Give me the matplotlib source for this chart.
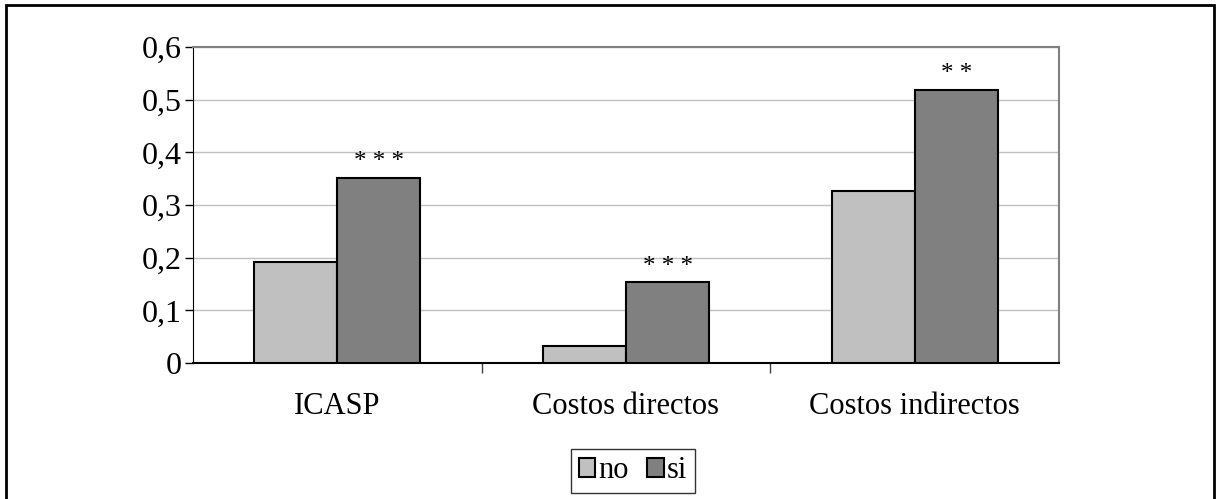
import numpy as np
import matplotlib.pyplot as plt
from matplotlib.patches import Rectangle

categories = ["ICASP", "Costos directos", "Costos indirectos"]
no_values = [0.192, 0.032, 0.326]
si_values = [0.352, 0.154, 0.519]
stars = ["* * *", "* * *", "* *"]
yticks = [0, 0.1, 0.2, 0.3, 0.4, 0.5, 0.6]
ytick_labels = ["0", "0,1", "0,2", "0,3", "0,4", "0,5", "0,6"]

plt.rcParams['font.family'] = ['Liberation Serif', 'DejaVu Serif']

fig = plt.figure(figsize=(12.16, 4.99), dpi=100)
W, H = 1216, 499
# axes box in pixels: left 193, right 1059, top 47, bottom 363
ax = fig.add_axes([193 / W, 1 - 363 / H, (1059 - 193) / W, (363 - 47) / H])

x = np.arange(len(categories))
width = 0.288
ax.bar(x - width / 2, no_values, width, color='#c0c0c0', edgecolor='black', linewidth=1.5, label='no', zorder=3)
ax.bar(x + width / 2, si_values, width, color='#808080', edgecolor='black', linewidth=1.5, label='si', zorder=3)

for xi, v, s in zip(x, si_values, stars):
    ax.text(xi + width / 2, v + 0.008, s, ha='center', va='bottom', fontsize=18, zorder=4)

ax.set_xlim(-0.5, len(categories) - 0.5)
ax.set_ylim(0, 0.6)
ax.set_yticks(yticks)
ax.set_yticklabels(ytick_labels, fontsize=23)
ax.yaxis.grid(True, color='#c0c0c0', linewidth=1, zorder=0)
ax.set_axisbelow(True)

ax.set_xticks([0.5, 1.5])
ax.set_xticklabels([])
ax.tick_params(axis='x', length=7, width=1, color='#404040', direction='out')
ax.tick_params(axis='y', length=6, width=1, color='black', direction='out', pad=2)
for xi, c in zip(x, categories):
    ax.text(xi, -0.055, c, ha='center', va='top', fontsize=22, transform=ax.transData)

ax.spines['left'].set_color('black')
ax.spines['bottom'].set_color('black')
ax.spines['bottom'].set_linewidth(1.5)
ax.spines['top'].set_color('#808080')
ax.spines['right'].set_color('#808080')
ax.spines['top'].set_linewidth(1.5)
ax.spines['right'].set_linewidth(1.5)

leg = fig.legend(loc='center', bbox_to_anchor=(633 / W, 1 - 471 / H), ncol=2, fontsize=22,
                 frameon=True, fancybox=False, edgecolor='black', handlelength=0.55, handleheight=0.55,
                 handletextpad=0.1, columnspacing=0.6, borderpad=0.25, borderaxespad=0)
leg.get_frame().set_linewidth(1)

# outer frame
fig.patches.append(Rectangle((6 / W, -0.01), (1214 - 6) / W, 1 - 5 / H + 0.01,
                             transform=fig.transFigure, fill=False, edgecolor='black', linewidth=2))

fig.savefig('out.png', dpi=100)
